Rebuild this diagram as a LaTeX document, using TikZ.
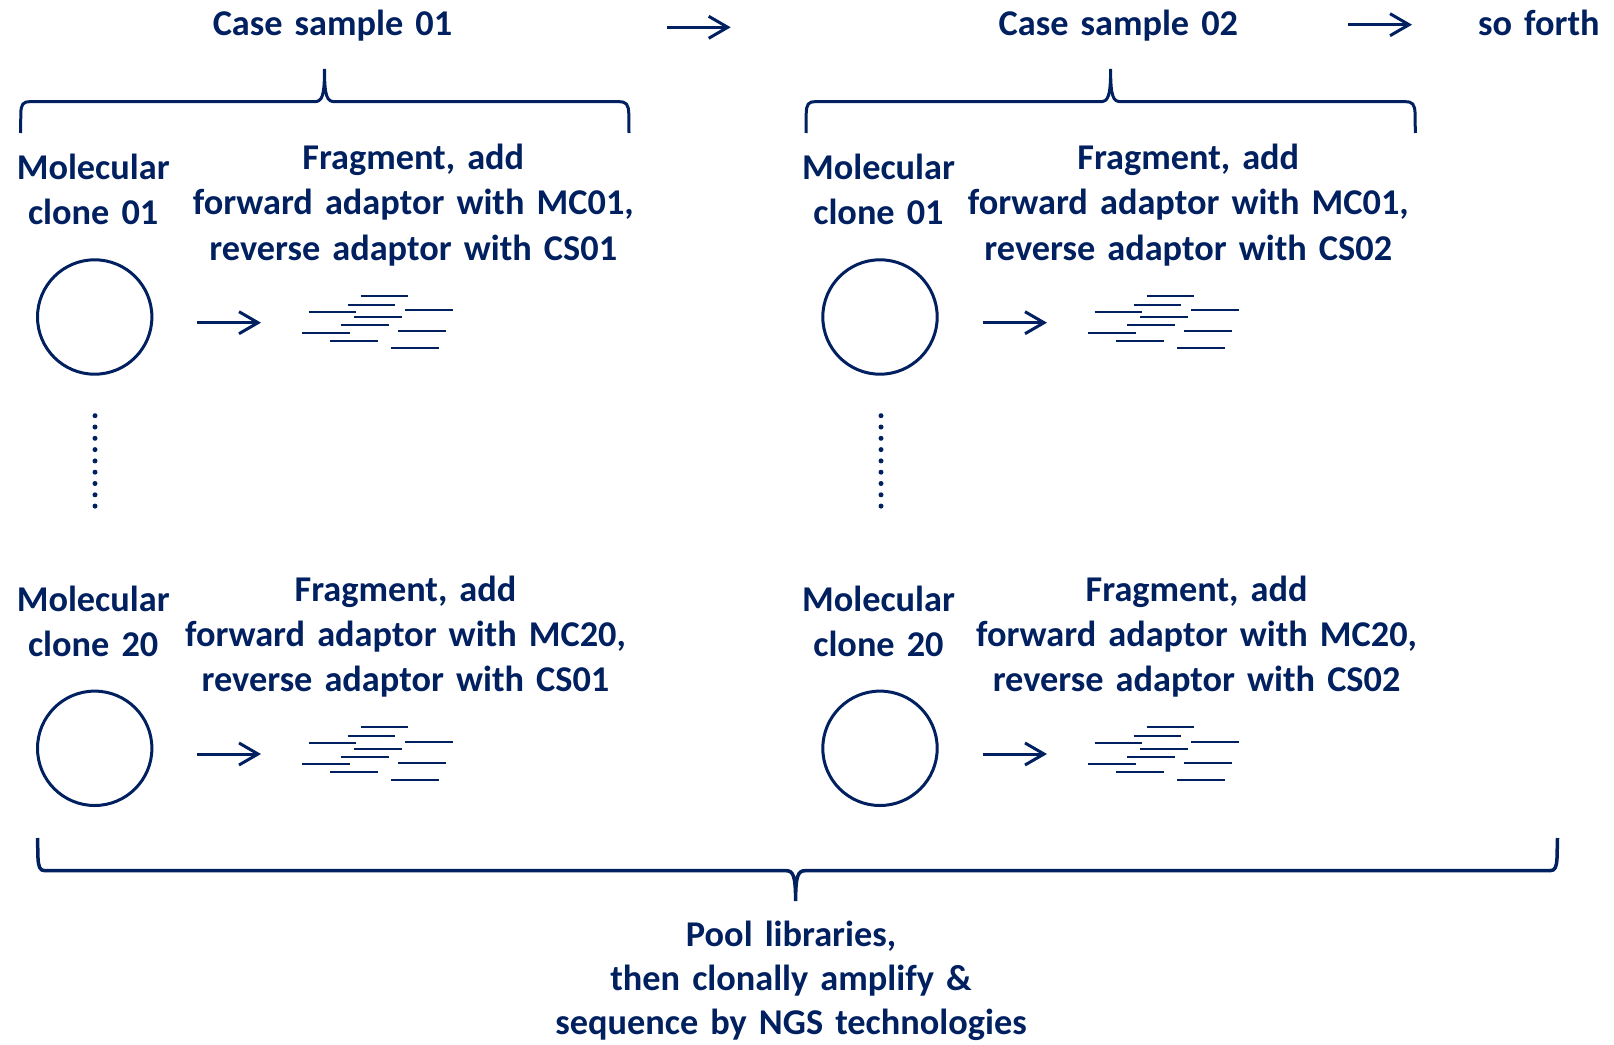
\documentclass[tikz,border=0pt]{standalone}
\usepackage{fontspec}
\setmainfont{Carlito}
\usetikzlibrary{arrows.meta}
\definecolor{navy}{RGB}{0,32,96}

\tikzset{
  fragments/.pic={
    \foreach \fx/\fy in {58.7/0, 45.7/8.7, 6.7/16, 103/14.3, 52/21.3,
                         39/29.3, 96.3/35.3, 0/37, 28.3/44.7, 89.3/52.3}
      \draw[frag] (\fx,\fy) -- ++(47.5,0);
  }
}

\begin{document}
\begin{tikzpicture}[x=1pt,y=-1pt,
  txt/.style={text=navy, font=\bfseries\fontsize{36.3}{45.3}\selectfont,
              inner sep=0pt, text width=600pt, align=center, anchor=base},
  clone/.style={circle, draw=navy, line width=3pt, minimum size=114.4pt, inner sep=0pt},
  frag/.style={draw=navy, line width=2pt},
  flow/.style={draw=navy, line width=3pt, -{Straight Barb[length=19pt,width=22pt]}},
  bracket/.style={draw=navy, line width=3pt},
  dotline/.style={draw=navy, line width=5pt, line cap=round, dash pattern=on 0pt off 11.3pt}
]
\path[use as bounding box, fill=white] (0,0) rectangle (1614,1044);

% headings along the top
\node[txt] (cs1) at (332.5,35.3) {Case sample 01};
\node[txt] (cs2) at (1118.4,35.3) {Case sample 02};
\node[txt] (forth) at (1538.8,35.3) {so forth};
\coordinate (t1a) at (667,27.3);   \coordinate (t1b) at (730.7,27.3);
\coordinate (t2a) at (1348.4,24.7); \coordinate (t2b) at (1412,24.7);
\draw[flow] (t1a) -- (t1b);
\draw[flow] (t2a) -- (t2b);

% braces under the headings
\draw[bracket] (20.6,133) -- (20.8,114) .. controls (21,104) and (23,101.7) .. (30,101.7)
  -- (314,101.7) .. controls (322,101.7) and (324.5,97) .. (324.5,69)
  .. controls (324.5,97) and (327,101.7) .. (335,101.7)
  -- (619,101.7) .. controls (626,101.7) and (628.6,104) .. (628.8,114) -- (629,133);
\draw[bracket] (806,133) -- (806.2,114) .. controls (806.4,104) and (808.4,101.7) .. (815.4,101.7)
  -- (1100.1,101.7) .. controls (1108.1,101.7) and (1110.6,97) .. (1110.6,69)
  .. controls (1110.6,97) and (1113.1,101.7) .. (1121.1,101.7)
  -- (1405.3,101.7) .. controls (1412.3,101.7) and (1414.9,104) .. (1415.1,114) -- (1415.3,133);

% column 1
\node[txt] (mol11) at (93.2,179.5) {Molecular\\clone 01};
\node[txt] (fr11) at (413.3,169.5) {Fragment, add\\forward adaptor with MC01,\\reverse adaptor with CS01};
\node[clone] (c11) at (94.7,317) {};
\coordinate (a11s) at (196.7,322.7); \coordinate (a11e) at (261,322.7);
\draw[flow] (a11s) -- (a11e);
\pic at (302,296) {fragments};

\coordinate (d1a) at (95,415.7); \coordinate (d1b) at (95,506.4);
\draw[dotline] (d1a) -- (d1b);

\node[txt] (mol21) at (93.2,611) {Molecular\\clone 20};
\node[txt] (fr21) at (405.5,601) {Fragment, add\\forward adaptor with MC20,\\reverse adaptor with CS01};
\node[clone] (c21) at (94.7,748.3) {};
\coordinate (a21s) at (196.7,754) ; \coordinate (a21e) at (261,754);
\draw[flow] (a21s) -- (a21e);
\pic at (302,727.3) {fragments};

% column 2
\node[txt] (mol12) at (878.5,179.5) {Molecular\\clone 01};
\node[txt] (fr12) at (1188.3,169.5) {Fragment, add\\forward adaptor with MC01,\\reverse adaptor with CS02};
\node[clone] (c12) at (880,317) {};
\coordinate (a12s) at (983,322.7); \coordinate (a12e) at (1047,322.7);
\draw[flow] (a12s) -- (a12e);
\pic at (1088,296) {fragments};

\coordinate (d2a) at (881,415.7); \coordinate (d2b) at (881,506.4);
\draw[dotline] (d2a) -- (d2b);

\node[txt] (mol22) at (878.5,611) {Molecular\\clone 20};
\node[txt] (fr22) at (1196.6,601) {Fragment, add\\forward adaptor with MC20,\\reverse adaptor with CS02};
\node[clone] (c22) at (880,748.3) {};
\coordinate (a22s) at (983,754); \coordinate (a22e) at (1047,754);
\draw[flow] (a22s) -- (a22e);
\pic at (1088,727.3) {fragments};

% pooling brace and final step
\draw[bracket, line width=3.5pt] (37.5,838) -- (38,858) .. controls (38.4,867) and (40,870.7) .. (45,870.7)
  -- (786,870.7) .. controls (793,870.7) and (795.6,875) .. (795.6,901)
  .. controls (795.6,875) and (798.2,870.7) .. (805.2,870.7)
  -- (1550,870.7) .. controls (1555,870.7) and (1556.6,867) .. (1557,858) -- (1557.5,838);
\node[txt, font=\bfseries\fontsize{36.3}{44}\selectfont] (pool) at (791,946.5)
  {Pool libraries,\\then clonally amplify \&\\sequence by NGS technologies};
\end{tikzpicture}
\end{document}
